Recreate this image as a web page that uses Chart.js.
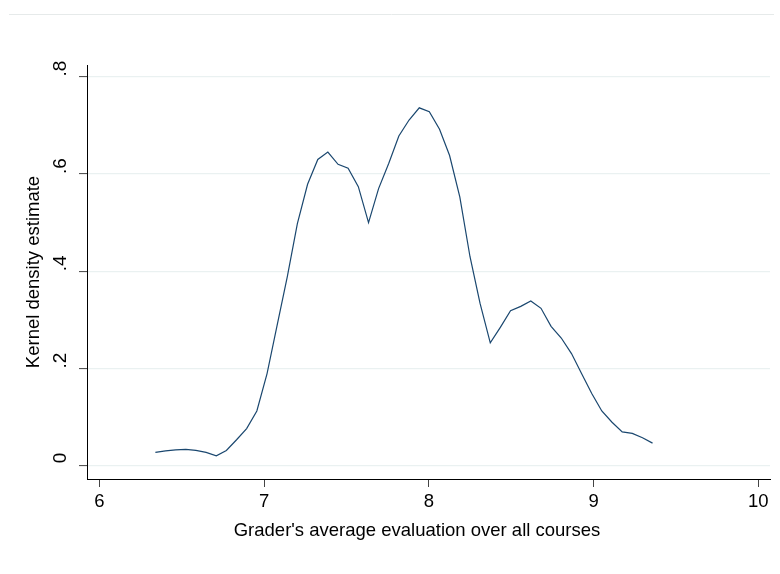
<!DOCTYPE html>
<html>
<head>
<meta charset="utf-8">
<script src="https://cdn.jsdelivr.net/npm/chart.js@4/dist/chart.umd.min.js"></script>
<style>
  html, body { margin: 0; padding: 0; background: #ffffff; }
  #wrap { width: 780px; height: 574px; position: relative; }
</style>
</head>
<body>
<div id="wrap"><canvas id="c" width="780" height="574"></canvas></div>
<script>
// Evaluation grid points (x) and kernel density estimates (y)
const gradeValues = [
  6.340, 6.402, 6.463, 6.525, 6.586, 6.648, 6.710, 6.771, 6.833, 6.894,
  6.956, 7.018, 7.079, 7.141, 7.202, 7.264, 7.326, 7.387, 7.449, 7.510,
  7.572, 7.634, 7.695, 7.757, 7.818, 7.880, 7.942, 8.003, 8.065, 8.126,
  8.188, 8.250, 8.311, 8.373, 8.434, 8.496, 8.558, 8.619, 8.681, 8.742,
  8.804, 8.866, 8.927, 8.989, 9.050, 9.112, 9.174, 9.235, 9.297, 9.358
];
const densityValues = [
  0.028, 0.031, 0.033, 0.034, 0.032, 0.028, 0.021, 0.032, 0.054, 0.077,
  0.113, 0.190, 0.289, 0.389, 0.498, 0.579, 0.630, 0.645, 0.620, 0.612,
  0.574, 0.500, 0.570, 0.622, 0.678, 0.711, 0.736, 0.728, 0.692, 0.638,
  0.553, 0.430, 0.334, 0.253, 0.285, 0.319, 0.328, 0.339, 0.324, 0.287,
  0.263, 0.231, 0.190, 0.149, 0.113, 0.090, 0.070, 0.067, 0.058, 0.047
];
const xTickValues = [6, 7, 8, 9, 10];
const yTickValues = [0, 0.2, 0.4, 0.6, 0.8];
const yTickLabels = ['0', '.2', '.4', '.6', '.8'];
const xTitle = "Grader's average evaluation over all courses";
const yTitle = 'Kernel density estimate';

const FONT = '"Liberation Sans", Arial, Helvetica, sans-serif';
const points = gradeValues.map((x, i) => ({ x: x, y: densityValues[i] }));

const decor = {
  id: 'decor',
  beforeDraw(chart) {
    const ctx = chart.ctx;
    ctx.save();
    ctx.fillStyle = '#ffffff';
    ctx.fillRect(0, 0, chart.width, chart.height);
    ctx.strokeStyle = '#e6eaea';
    ctx.lineWidth = 1;
    ctx.beginPath();
    ctx.moveTo(9, 14.5);
    ctx.lineTo(774, 14.5);
    ctx.stroke();
    ctx.restore();
  },
  afterDraw(chart) {
    const ctx = chart.ctx;
    const ys = chart.scales.y;
    ctx.save();
    ctx.fillStyle = '#000000';
    ctx.font = '19px ' + FONT;
    ctx.textAlign = 'center';
    ctx.textBaseline = 'middle';
    yTickValues.forEach((v, i) => {
      const py = ys.getPixelForValue(v);
      ctx.save();
      ctx.translate(61, py - 8);
      ctx.rotate(-Math.PI / 2);
      ctx.fillText(yTickLabels[i], 0, 0);
      ctx.restore();
    });
    // x-axis title
    ctx.font = '18.5px ' + FONT;
    ctx.fillText(xTitle, 417, 531);
    ctx.restore();
  }
};

new Chart(document.getElementById('c'), {
  type: 'scatter',
  data: {
    datasets: [{
      data: points,
      showLine: true,
      borderColor: '#1a476f',
      backgroundColor: '#1a476f',
      borderWidth: 1.2,
      pointRadius: 0,
      tension: 0,
      fill: false
    }]
  },
  options: {
    responsive: false,
    animation: false,
    devicePixelRatio: 1,
    layout: { padding: { left: 0, top: 65, right: 10, bottom: 0 } },
    plugins: { legend: { display: false }, tooltip: { enabled: false } },
    scales: {
      x: {
        type: 'linear',
        min: 5.925,
        max: 10.071,
        afterBuildTicks: (s) => { s.ticks = xTickValues.map(v => ({ value: v })); },
        afterFit: (s) => { s.height = 95; },
        border: { display: true, color: '#000000', width: 1 },
        grid: { drawOnChartArea: false, drawTicks: true, tickLength: 8, tickColor: '#444444', tickWidth: 1 },
        ticks: {
          padding: 4,
          color: '#000000',
          font: { family: FONT, size: 18.5 },
          maxRotation: 0,
          autoSkip: false,
          callback: (v) => String(v)
        },
        title: { display: false }
      },
      y: {
        type: 'linear',
        min: -0.0267,
        max: 0.824,
        afterBuildTicks: (s) => { s.ticks = yTickValues.map(v => ({ value: v })); },
        afterFit: (s) => { s.width = 87; },
        border: { display: true, color: '#000000', width: 1 },
        grid: { drawOnChartArea: true, color: '#eaf1f1', lineWidth: 1.2, drawTicks: true, tickLength: 8, tickColor: '#444444', tickWidth: 1 },
        ticks: { display: false },
        title: {
          display: true,
          text: yTitle,
          color: '#000000',
          font: { family: FONT, size: 18.5 },
          padding: { top: 23, bottom: 0 }
        }
      }
    }
  },
  plugins: [decor]
});
</script>
</body>
</html>
